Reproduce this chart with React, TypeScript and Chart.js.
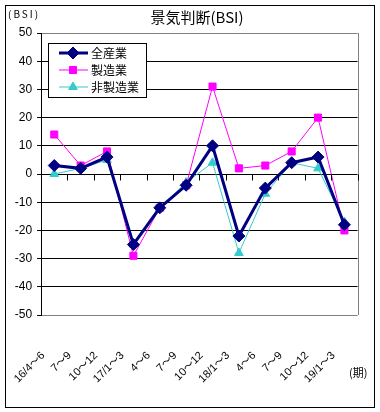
import { useEffect, useRef } from "react";
import { Chart, registerables } from "chart.js";

Chart.register(...registerables);

const categories = ["16/4～6", "7～9", "10～12", "17/1～3", "4～6", "7～9", "10～12", "18/1～3", "4～6", "7～9", "10～12", "19/1～3"];
const allIndustries = [3, 2, 6, -25, -12, -4, 10, -22, -5, 4, 6, -18];
const manufacturing = [14, 3, 8, -29, -12, -4, 31, 2, 3, 8, 20, -20];
const nonManufacturing = [0, 2, 5, -25, -12, -3, 4, -28, -7, 4, 2, -17];
const seriesLabels = ["全産業", "製造業", "非製造業"];
const yMin = -50;
const yMax = 50;
const yStep = 10;
const titleText = "景気判断(BSI)";
const yUnitText = "(BSI)";
const xUnitText = "(期)";

const JP = '"Noto Sans CJK JP", sans-serif';
const NUM = '"Liberation Sans", "Noto Sans CJK JP", sans-serif';

const decorPlugin = {
  id: "decor",
  afterDatasetsDraw(chart: any) {
    const ctx = chart.ctx;
    const area = chart.chartArea;
    const xs = chart.scales.x;
    const ys = chart.scales.y;
    ctx.save();
    // right border of plot area
    ctx.strokeStyle = "#808080";
    ctx.lineWidth = 1;
    ctx.beginPath();
    ctx.moveTo(Math.round(area.right) + 0.5, area.top);
    ctx.lineTo(Math.round(area.right) + 0.5, area.bottom);
    ctx.stroke();
    // zero axis tick marks
    const y0 = Math.round(ys.getPixelForValue(0)) + 0.5;
    ctx.strokeStyle = "#000";
    ctx.beginPath();
    for (let i = 0; i <= categories.length; i++) {
      const x = Math.round(xs.getPixelForValue(i - 0.5)) + 0.5;
      ctx.moveTo(x, y0);
      ctx.lineTo(x, y0 + 6);
    }
    ctx.stroke();

    // legend
    const lx = 48, ly = 43, lw = 98, lh = 54;
    ctx.fillStyle = "#fff";
    ctx.fillRect(lx, ly, lw, lh);
    ctx.strokeStyle = "#000";
    ctx.lineWidth = 1;
    ctx.strokeRect(lx + 0.5, ly + 0.5, lw, lh);
    chart.data.datasets.forEach((ds: any, i: number) => {
      const ry = ly + 10 + i * 17;
      ctx.strokeStyle = ds.borderColor;
      ctx.lineWidth = ds.borderWidth;
      ctx.beginPath();
      ctx.moveTo(lx + 11, ry);
      ctx.lineTo(lx + 40, ry);
      ctx.stroke();
      const r = ds.pointRadius;
      ctx.fillStyle = ds.pointBackgroundColor;
      ctx.strokeStyle = ds.pointBorderColor;
      ctx.lineWidth = 1;
      const cx = lx + 25;
      ctx.beginPath();
      if (ds.pointStyle === "rectRot") {
        ctx.moveTo(cx, ry - r);
        ctx.lineTo(cx + r, ry);
        ctx.lineTo(cx, ry + r);
        ctx.lineTo(cx - r, ry);
        ctx.closePath();
      } else if (ds.pointStyle === "rect") {
        const s = r / Math.SQRT2;
        ctx.rect(cx - s, ry - s, 2 * s, 2 * s);
      } else {
        ctx.moveTo(cx, ry - r);
        ctx.lineTo(cx + r * 0.866, ry + r * 0.5);
        ctx.lineTo(cx - r * 0.866, ry + r * 0.5);
        ctx.closePath();
      }
      ctx.fill();
      ctx.stroke();
      ctx.fillStyle = "#000";
      ctx.font = "12px " + JP;
      ctx.textBaseline = "middle";
      ctx.textAlign = "left";
      ctx.fillText(ds.label, lx + 43, ry);
    });
    ctx.restore();
  },
  afterDraw(chart: any) {
    const ctx = chart.ctx;
    ctx.save();
    // outer frame
    ctx.strokeStyle = "#000";
    ctx.lineWidth = 1;
    ctx.strokeRect(5.5, 5.5, 369, 402);
    ctx.fillStyle = "#000";
    ctx.textBaseline = "middle";
    ctx.textAlign = "center";
    ctx.font = "15px " + JP;
    ctx.fillText(titleText, 197, 17);
    ctx.font = "10px " + JP;
    ctx.textAlign = "left";
    (ctx as any).letterSpacing = "2px";
    ctx.fillText(yUnitText, 8, 14);
    (ctx as any).letterSpacing = "0px";
    ctx.font = "11px " + JP;
    ctx.fillText(xUnitText, 349, 373);
    ctx.restore();
  },
};

export default function App() {
  const ref = useRef<HTMLCanvasElement | null>(null);
  useEffect(() => {
    if (!ref.current) return;
    const chart = new Chart(ref.current, {
      type: "line",
      data: {
        labels: categories,
        datasets: [
          {
            label: seriesLabels[0],
            data: allIndustries,
            borderColor: "#000080",
            backgroundColor: "#000080",
            borderWidth: 3,
            pointStyle: "rectRot",
            pointRadius: 6,
            pointBackgroundColor: "#000080",
            pointBorderColor: "#000080",
            pointBorderWidth: 1,
            tension: 0,
          },
          {
            label: seriesLabels[1],
            data: manufacturing,
            borderColor: "#ff00ff",
            backgroundColor: "#ff00ff",
            borderWidth: 1,
            pointStyle: "rect",
            pointRadius: 5,
            pointBackgroundColor: "#ff00ff",
            pointBorderColor: "#ff00ff",
            pointBorderWidth: 1,
            tension: 0,
          },
          {
            label: seriesLabels[2],
            data: nonManufacturing,
            borderColor: "#33cccc",
            backgroundColor: "#33cccc",
            borderWidth: 1,
            pointStyle: "triangle",
            pointRadius: 5,
            pointBackgroundColor: "#33cccc",
            pointBorderColor: "#33cccc",
            pointBorderWidth: 1,
            tension: 0,
          },
        ] as any,
      },
      options: {
        responsive: false,
        animation: false,
        devicePixelRatio: 1,
        layout: { padding: { left: 0, right: 11, top: 33, bottom: 0 } },
        plugins: {
          legend: { display: false },
          title: { display: false },
          tooltip: { enabled: false },
        },
        scales: {
          x: {
            offset: true,
            grid: { display: false },
            border: { display: false },
            afterFit(scale: any) {
              scale.height = 97;
            },
            ticks: {
              autoSkip: false,
              minRotation: 45,
              maxRotation: 45,
              padding: 26,
              labelOffset: -11,
              color: "#000",
              font: { size: 11, family: NUM },
            },
          },
          y: {
            min: yMin,
            max: yMax,
            afterFit(scale: any) {
              scale.width = 36;
            },
            border: { display: true, color: "#000", width: 1 },
            grid: {
              color: (c: any) => (c.tick && (c.tick.value === yMax || c.tick.value === yMin) ? "#808080" : "#000"),
              tickLength: 4,
              tickColor: "#000",
            },
            ticks: {
              stepSize: yStep,
              padding: 5,
              color: "#000",
              font: { size: 12, family: NUM },
            },
          },
        },
      },
      plugins: [decorPlugin],
    });
    return () => chart.destroy();
  }, []);
  return (
    <div style={{ position: "absolute", left: 0, top: 0, width: 380, height: 412, background: "#fff" }}>
      <canvas ref={ref} width={380} height={412} />
    </div>
  );
}
